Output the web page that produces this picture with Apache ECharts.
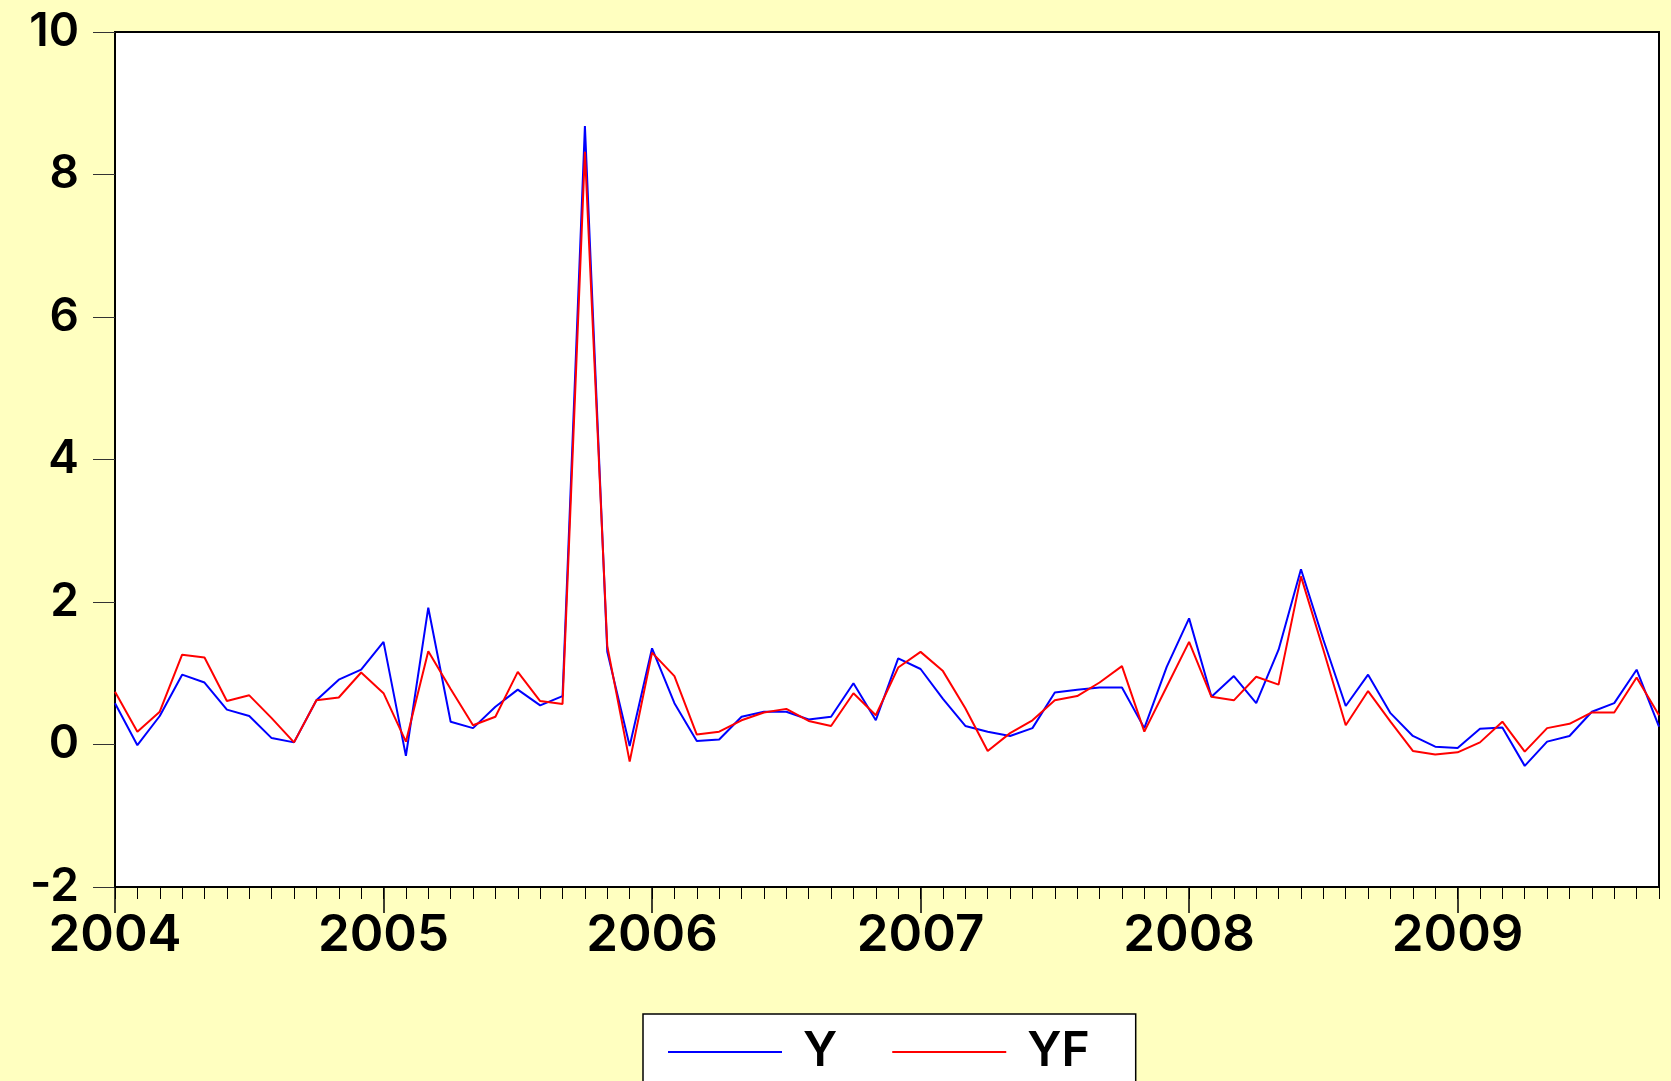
<!DOCTYPE html>
<html>
<head>
<meta charset="utf-8">
<script src="https://cdn.jsdelivr.net/npm/echarts@6/dist/echarts.min.js"></script>
<style>
html,body{margin:0;padding:0;background:#FFFFC0;}
#chart{width:1671px;height:1081px;}
</style>
</head>
<body>
<div id="chart"></div>
<script>
// Monthly categories Jan 2004 .. Oct 2009
const years = [2004, 2005, 2006, 2007, 2008, 2009];
const months = [];
years.forEach(y => { for (let m = 1; m <= 12; m++) months.push(y + '-' + (m < 10 ? '0' + m : m)); });
const categories = months.slice(0, 70);

const yTicks = { min: -2, max: 10, interval: 2 };

const seriesY = [
  0.58, -0.01, 0.40, 0.98, 0.87, 0.49, 0.40, 0.09, 0.03, 0.62, 0.91, 1.05,
  1.44, -0.16, 1.92, 0.32, 0.23, 0.53, 0.77, 0.55, 0.68, 8.68, 1.30, -0.02,
  1.35, 0.58, 0.05, 0.07, 0.39, 0.46, 0.46, 0.35, 0.39, 0.86, 0.34, 1.21,
  1.06, 0.64, 0.26, 0.18, 0.12, 0.23, 0.73, 0.77, 0.80, 0.80, 0.23, 1.09,
  1.77, 0.67, 0.96, 0.58, 1.33, 2.46, 1.47, 0.54, 0.98, 0.44, 0.12, -0.03,
  -0.05, 0.22, 0.24, -0.30, 0.04, 0.12, 0.46, 0.58, 1.05, 0.25
];
const seriesYF = [
  0.74, 0.18, 0.46, 1.26, 1.22, 0.61, 0.69, 0.37, 0.03, 0.62, 0.66, 1.01,
  0.72, 0.04, 1.31, 0.78, 0.27, 0.39, 1.02, 0.61, 0.57, 8.32, 1.38, -0.24,
  1.29, 0.96, 0.14, 0.18, 0.34, 0.45, 0.50, 0.33, 0.26, 0.72, 0.41, 1.08,
  1.30, 1.03, 0.51, -0.09, 0.16, 0.34, 0.62, 0.68, 0.87, 1.10, 0.18, 0.81,
  1.44, 0.67, 0.62, 0.95, 0.84, 2.36, 1.33, 0.27, 0.75, 0.32, -0.09, -0.14,
  -0.11, 0.03, 0.32, -0.10, 0.23, 0.29, 0.45, 0.45, 0.94, 0.41
];

const FONT = 'Inter, "DejaVu Sans", sans-serif';
const WEIGHT = 600;
const chart = echarts.init(document.getElementById('chart'), null, { renderer: 'canvas' });
const isJan = (idx) => idx % 12 === 0;

chart.setOption({
  backgroundColor: '#FFFFC0',
  animation: false,
  grid: {
    left: 115, top: 32, right: 12, bottom: 194,
    show: true, backgroundColor: '#ffffff', borderColor: '#000000', borderWidth: 2,
    containLabel: false, outerBoundsMode: 'none'
  },
  legend: {
    left: 643, top: 1014,
    padding: [14, 46, 46, 25],
    backgroundColor: '#ffffff', borderColor: '#000000', borderWidth: 1.5, borderRadius: 0,
    icon: 'rect', itemWidth: 114, itemHeight: 2, itemGap: 55,
    textStyle: { fontFamily: FONT, fontSize: 48, fontWeight: WEIGHT, color: '#000', lineHeight: 30, padding: [0, 0, 0, 16] },
    data: ['Y', 'YF']
  },
  xAxis: [
    {
      type: 'category', data: categories, boundaryGap: false, position: 'bottom',
      axisLine: { show: true, onZero: false, lineStyle: { color: '#000', width: 2 } },
      axisTick: { show: true, interval: 0, length: 12, lineStyle: { color: '#000', width: 1 } },
      axisLabel: { show: false },
      splitLine: { show: false }
    },
    {
      type: 'category', data: categories, boundaryGap: false, position: 'bottom',
      axisLine: { show: false, onZero: false },
      axisTick: { show: true, interval: isJan, length: 26, lineStyle: { color: '#000', width: 1.5 } },
      axisLabel: {
        show: true, interval: isJan, margin: 23,
        fontFamily: FONT, fontSize: 51, fontWeight: WEIGHT, color: '#000',
        formatter: (v) => v.slice(0, 4)
      },
      splitLine: { show: false }
    }
  ],
  yAxis: {
    type: 'value', min: yTicks.min, max: yTicks.max, interval: yTicks.interval,
    axisLine: { show: true, lineStyle: { color: '#000', width: 2 } },
    axisTick: { show: true, length: 22, lineStyle: { color: '#333', width: 1 } },
    axisLabel: { fontFamily: FONT, fontSize: 46, fontWeight: WEIGHT, color: '#000', margin: 36, padding: [0, 0, 12, 0] },
    splitLine: { show: false }
  },
  series: [
    {
      name: 'Y', type: 'line', data: seriesY, xAxisIndex: 0,
      symbol: 'none', showSymbol: false,
      lineStyle: { color: '#0000ff', width: 2 }, itemStyle: { color: '#0000ff' }
    },
    {
      name: 'YF', type: 'line', data: seriesYF, xAxisIndex: 0,
      symbol: 'none', showSymbol: false,
      lineStyle: { color: '#ff0000', width: 2 }, itemStyle: { color: '#ff0000' }
    }
  ]
});
</script>
</body>
</html>
